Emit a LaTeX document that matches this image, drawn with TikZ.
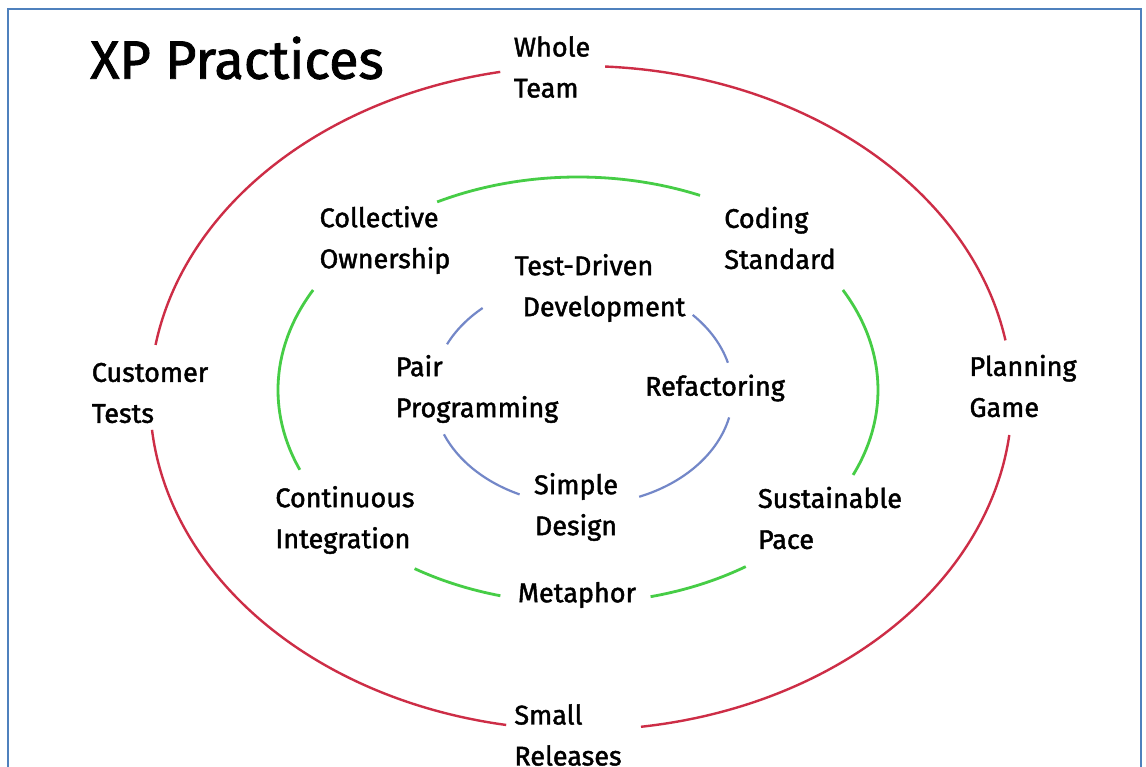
\documentclass[tikz,border=0pt]{standalone}
\usepackage{fontspec}
\setmainfont{Fira Sans}
\newfontfamily\heavyfont{Fira Sans}[FakeBold=1.6]
\definecolor{framec}{RGB}{79,129,189}
\definecolor{redc}{RGB}{205,45,70}
\definecolor{greenc}{RGB}{70,205,70}
\definecolor{bluec}{RGB}{115,135,200}
\tikzset{
  lbl/.style={font=\heavyfont\fontsize{27}{41}\selectfont, align=left, inner sep=0pt, text=black},
  lblc/.style={lbl, align=center},
  redline/.style={draw=redc, line width=2.4pt},
  greenline/.style={draw=greenc, line width=2.8pt},
  blueline/.style={draw=bluec, line width=2.2pt},
}
\begin{document}
\begin{tikzpicture}[x=1pt,y=-1pt]
\useasboundingbox (0,0) rectangle (1146,767);
\fill[white] (0,0) rectangle (1146,767);
% frame
\draw[framec, line width=2pt] (8,767) -- (8,9) -- (1141,9) -- (1141,767);

% title
\node[inner sep=0pt, font=\heavyfont\fontsize{54}{60}\selectfont] (title) at (237,58) {XP Practices};

% centres
\coordinate (R) at (581,398);
\coordinate (G) at (578,390);
\coordinate (B) at (583,392);

% outer red ellipse
\draw[redline] ([shift={(100.8:431pt and 332pt)}]R) arc[start angle=100.8, end angle=170.8, x radius=431pt, y radius=332pt];
\draw[redline] ([shift={(185.5:431pt and 332pt)}]R) arc[start angle=185.5, end angle=260, x radius=431pt, y radius=332pt];
\draw[redline] ([shift={(278:431pt and 332pt)}]R) arc[start angle=278, end angle=353.6, x radius=431pt, y radius=332pt];
\draw[redline] ([shift={(10:431pt and 332pt)}]R) arc[start angle=10, end angle=86.8, x radius=431pt, y radius=332pt];

% middle green ellipse
\draw[greenline] ([shift={(66:300pt and 213pt)}]G) arc[start angle=66, end angle=118, x radius=300pt, y radius=213pt];
\draw[greenline] ([shift={(152:300pt and 213pt)}]G) arc[start angle=152, end angle=202, x radius=300pt, y radius=213pt];
\draw[greenline] ([shift={(237:300pt and 213pt)}]G) arc[start angle=237, end angle=255, x radius=300pt, y radius=213pt];
\draw[greenline] ([shift={(284:300pt and 213pt)}]G) arc[start angle=284, end angle=304, x radius=300pt, y radius=213pt];
\draw[greenline] ([shift={(-23.5:300pt and 213pt)}]G) arc[start angle=-23.5, end angle=28, x radius=300pt, y radius=213pt];

% inner blue ellipse
\draw[blueline] ([shift={(132:150pt and 113pt)}]B) arc[start angle=132, end angle=155, x radius=150pt, y radius=113pt];
\draw[blueline] ([shift={(202:150pt and 113pt)}]B) arc[start angle=202, end angle=245, x radius=150pt, y radius=113pt];
\draw[blueline] ([shift={(292:150pt and 113pt)}]B) arc[start angle=292, end angle=347, x radius=150pt, y radius=113pt];
\draw[blueline] ([shift={(15:150pt and 113pt)}]B) arc[start angle=15, end angle=43, x radius=150pt, y radius=113pt];

% outer labels
\node[lbl] (whole) at (552,67) {Whole\\Team};
\node[lbl] (customer) at (150,393) {Customer\\Tests};
\node[lbl] (planning) at (1023,386) {Planning\\Game};
\node[lbl] (small) at (568,735) {Small\\Releases};

% middle labels
\node[lbl] (collective) at (385,240) {Collective\\Ownership};
\node[lbl] (coding) at (780,238) {Coding\\Standard};
\node[lbl] (continuous) at (345,520) {Continuous\\Integration};
\node[lbl] (sustainable) at (830,518) {Sustainable\\Pace};
\node[lblc] (metaphor) at (577,595) {Metaphor};

% inner labels
\node[lblc] (tdd) at (584,288) {Test-Driven\\\hspace*{40pt}Development};
\node[lbl] (pair) at (477,389) {Pair\\Programming};
\node[lblc] (refactoring) at (715,388) {Refactoring};
\node[lblc] (simple) at (576,507) {Simple\\Design};
\end{tikzpicture}
\end{document}
